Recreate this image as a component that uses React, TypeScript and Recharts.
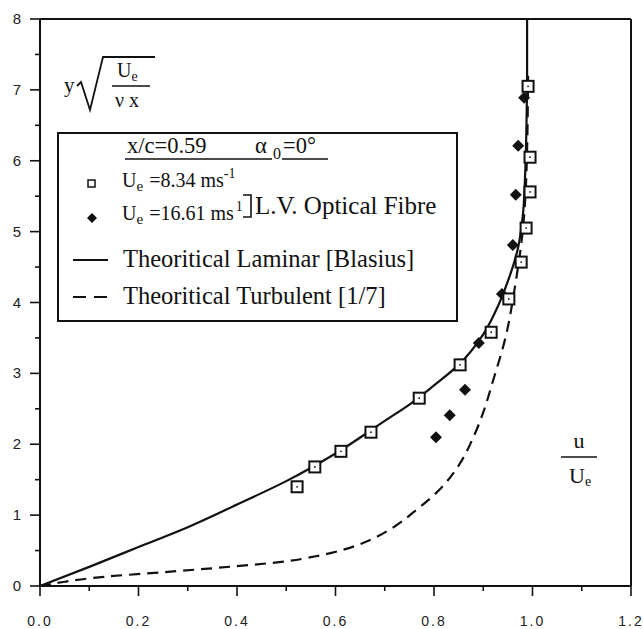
import React from "react";
import {
  Label,
  Legend,
  ReferenceLine,
  Scatter,
  ScatterChart,
  XAxis,
  YAxis,
} from "recharts";

// u/Ue and y*sqrt(Ue/(nu x))
const lvLowU = [0.522, 0.558, 0.611, 0.672, 0.77, 0.853, 0.916, 0.952, 0.977, 0.987, 0.995, 0.995, 0.991];
const lvLowY = [1.4, 1.68, 1.9, 2.17, 2.65, 3.12, 3.58, 4.05, 4.57, 5.05, 5.56, 6.05, 7.05];

const lvHighU = [0.804, 0.832, 0.863, 0.891, 0.938, 0.96, 0.966, 0.971, 0.983];
const lvHighY = [2.1, 2.41, 2.77, 3.43, 4.12, 4.81, 5.52, 6.21, 6.89];

const laminarU = [0, 0.1, 0.2, 0.3, 0.4, 0.5, 0.6, 0.7, 0.75, 0.8, 0.85, 0.9, 0.93, 0.95, 0.97, 0.98, 0.985, 0.988, 0.989, 0.989];
const laminarY = [0, 0.27, 0.55, 0.83, 1.15, 1.48, 1.87, 2.33, 2.56, 2.83, 3.12, 3.55, 3.95, 4.3, 4.75, 5.2, 5.8, 6.6, 7.3, 8];

const turbU = [0, 0.05, 0.13, 0.26, 0.4, 0.49, 0.56, 0.62, 0.67, 0.72, 0.76, 0.81, 0.85, 0.88, 0.9, 0.92, 0.945, 0.965, 0.98, 0.988, 0.991];
const turbY = [0, 0.06, 0.13, 0.2, 0.28, 0.34, 0.42, 0.52, 0.65, 0.84, 1.05, 1.35, 1.7, 2.1, 2.45, 2.9, 3.5, 4.25, 5.0, 5.9, 7.2];

const uTicks = [0, 0.1, 0.2, 0.3, 0.4, 0.5, 0.6, 0.7, 0.8, 0.9, 1.0, 1.1, 1.2];
const yTicks = [0, 0.5, 1, 1.5, 2, 2.5, 3, 3.5, 4, 4.5, 5, 5.5, 6, 6.5, 7, 7.5, 8];

const zip = (us: number[], ys: number[]) => us.map((u, i) => ({ u, y: ys[i] }));

const INK = "#111";
const SERIF = "'Liberation Serif', 'Times New Roman', serif";
const SANS = "'Liberation Sans', Arial, sans-serif";

function XTick({ x, y, payload }: any) {
  const v = payload.value as number;
  const major = Math.round(v * 10) % 2 === 0;
  return (
    <g>
      <line x1={x} y1={y} x2={x} y2={y + (major ? 10 : 5)} stroke={INK} strokeWidth={1.6} />
      {major && (
        <text x={x} y={y + 40} textAnchor="middle" fontFamily={SANS} fontSize={14} letterSpacing={2} fill="#222">
          {v.toFixed(1)}
        </text>
      )}
    </g>
  );
}

function YTick({ x, y, payload }: any) {
  const v = payload.value as number;
  const major = Number.isInteger(v);
  return (
    <g>
      <line x1={x - (major ? 10 : 5)} y1={y} x2={x} y2={y} stroke={INK} strokeWidth={1.6} />
      {major && (
        <text x={x - 19} y={y + 5} textAnchor="end" fontFamily={SANS} fontSize={15} fill="#222">
          {v}
        </text>
      )}
    </g>
  );
}

function SquareDot({ cx, cy }: any) {
  return (
    <g>
      <rect x={cx - 5.5} y={cy - 5.5} width={11} height={11} fill="#fff" stroke={INK} strokeWidth={2} />
      <circle cx={cx} cy={cy} r={0.9} fill={INK} />
    </g>
  );
}

function DiamondDot({ cx, cy }: any) {
  return <path d={`M${cx},${cy - 6}L${cx + 6},${cy}L${cx},${cy + 6}L${cx - 6},${cy}Z`} fill={INK} />;
}

const NoDot = () => <g />;

function YLabel() {
  return (
    <g fontFamily={SERIF} fill={INK}>
      <text x={64} y={92} fontSize={21}>y</text>
      <path d="M77,86 L81,82 L90,110 L103,57 L155,57" fill="none" stroke={INK} strokeWidth={1.8} />
      <text x={117} y={77} fontSize={20}>
        U<tspan fontSize={14} dy={4}>e</tspan>
      </text>
      <line x1={112} y1={86} x2={150} y2={86} stroke={INK} strokeWidth={1.5} />
      <text x={115} y={107} fontSize={20}>ν x</text>
    </g>
  );
}

function XLabel() {
  return (
    <g fontFamily={SERIF} fill={INK}>
      <text x={579} y={448} fontSize={22} textAnchor="middle">u</text>
      <line x1={561} y1={457} x2={597} y2={457} stroke={INK} strokeWidth={1.5} />
      <text x={569} y={483} fontSize={22}>
        U<tspan fontSize={14} dy={3}>e</tspan>
      </text>
    </g>
  );
}

function LegendBox() {
  return (
    <svg width={401} height={190} style={{ display: "block" }}>
      <g fontFamily={SERIF} fill={INK}>
        <rect x={1} y={1} width={399} height={188} fill="#fff" stroke={INK} strokeWidth={2} />
        <text x={70} y={21} fontSize={22.5}>x/c=0.59</text>
        <line x1={68} y1={27} x2={215} y2={27} stroke={INK} strokeWidth={1.3} />
        <text x={198} y={21} fontSize={22.5}>α</text>
        <text x={216} y={27} fontSize={16}>0</text>
        <text x={226} y={21} fontSize={22.5}>=0°</text>
        <line x1={225} y1={27} x2={271} y2={27} stroke={INK} strokeWidth={1.3} />

        <rect x={31} y={48} width={7} height={7} fill="#fff" stroke={INK} strokeWidth={1.5} />
        <text x={65} y={55} fontSize={20}>
          U<tspan fontSize={15} dy={4}>e</tspan>
          <tspan dy={-4} dx={6}>=8.34 ms</tspan>
          <tspan fontSize={14} dy={-9}>-1</tspan>
        </text>

        <path d="M35,81 L40,86 L35,91 L30,86 Z" fill={INK} />
        <text x={65} y={88} fontSize={20}>
          U<tspan fontSize={15} dy={4}>e</tspan>
          <tspan dy={-4} dx={6}>=16.61 ms</tspan>
          <tspan fontSize={14} dy={-9} dx={2}>1</tspan>
        </text>

        <path d="M186,63 L194,63 L194,85 L186,85" fill="none" stroke={INK} strokeWidth={1.6} />
        <text x={198} y={82} fontSize={25}>L.V. Optical Fibre</text>

        <line x1={16} y1={128} x2={51} y2={128} stroke={INK} strokeWidth={2} />
        <text x={66} y={135} fontSize={24.5}>Theoritical Laminar [Blasius]</text>

        <line x1={16} y1={165} x2={51} y2={165} stroke={INK} strokeWidth={2} strokeDasharray="13 8" />
        <text x={66} y={172} fontSize={24.5}>Theoritical Turbulent [1/7]</text>
      </g>
    </svg>
  );
}

export default function App() {
  return (
    <div style={{ position: "absolute", left: 0, top: 0, width: 643, height: 629, background: "#fff" }}>
      <ScatterChart width={643} height={629} margin={{ top: 19, right: 12, bottom: 13, left: 10 }}>
        <XAxis
          type="number"
          dataKey="u"
          domain={[0, 1.2]}
          ticks={uTicks}
          interval={0}
          height={30}
          tickSize={0}
          tickMargin={0}
          tickLine={false}
          tick={<XTick />}
          axisLine={{ stroke: INK, strokeWidth: 2 }}
        >
          <Label content={<XLabel />} />
        </XAxis>
        <YAxis
          type="number"
          dataKey="y"
          domain={[0, 8]}
          ticks={yTicks}
          interval={0}
          width={30}
          tickSize={0}
          tickMargin={0}
          tickLine={false}
          tick={<YTick />}
          axisLine={{ stroke: INK, strokeWidth: 2 }}
        >
          <Label content={<YLabel />} />
        </YAxis>
        <ReferenceLine y={8} stroke={INK} strokeWidth={2} />
        <ReferenceLine x={1.2} stroke={INK} strokeWidth={2} />
        <Scatter
          data={zip(laminarU, laminarY)}
          shape={NoDot}
          line={{ stroke: INK, strokeWidth: 2.2 }}
          lineJointType="monotoneY"
          isAnimationActive={false}
        />
        <Scatter
          data={zip(turbU, turbY)}
          shape={NoDot}
          line={{ stroke: INK, strokeWidth: 2.2, strokeDasharray: "11 7" }}
          lineJointType="monotoneY"
          isAnimationActive={false}
        />
        <Scatter data={zip(lvHighU, lvHighY)} shape={<DiamondDot />} isAnimationActive={false} />
        <Scatter data={zip(lvLowU, lvLowY)} shape={<SquareDot />} isAnimationActive={false} />
        <Legend
          content={<LegendBox />}
          layout="horizontal"
          verticalAlign="middle"
          align="center"
          wrapperStyle={{ position: "absolute", left: 57, top: 132, width: 401, height: 190 }}
        />
      </ScatterChart>
    </div>
  );
}
